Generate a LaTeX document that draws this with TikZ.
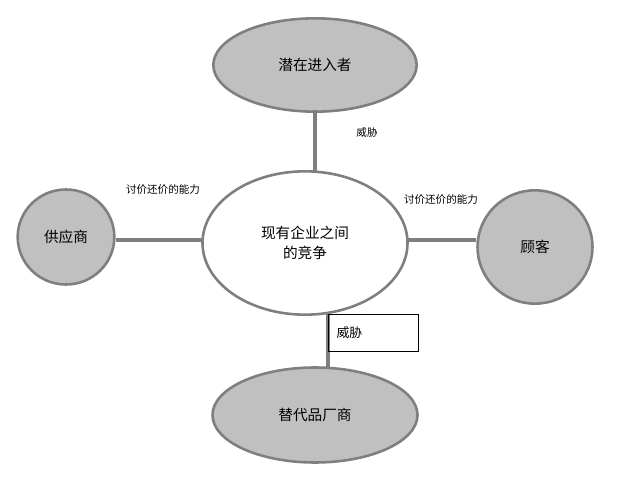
\documentclass[tikz,border=0pt]{standalone}
\usepackage{fontspec}
\setmainfont{Noto Sans CJK SC}
\usetikzlibrary{positioning,shapes.geometric}
\definecolor{rimgray}{HTML}{7F7F7F}
\definecolor{fillgray}{HTML}{C0C0C0}
\tikzset{
    party/.style = {ellipse,
                    fill=fillgray,
                    draw=rimgray,
                    line width=2.2pt,
                    inner sep=0pt,
                    text=black,
                    font=\fontsize{12.5}{17}\selectfont},
    core/.style =  {party,
                    fill=white},
    link/.style =  {draw=rimgray,
                    line width=2.6pt},
    tag/.style =   {font=\fontsize{9}{11}\selectfont, inner sep=0pt}
}
\begin{document}
\begin{tikzpicture}[x=0.03cm,y=-0.03cm]
    \useasboundingbox (0,0) rectangle (643,486);
    \node[core, minimum width=6.15cm, minimum height=4.3cm, align=center] (M) at (305,243) {现有企业之间\\的竞争};
    \node[party, minimum width=6.1cm, minimum height=2.8cm] (T) at (315,65) {潜在进入者};
    \node[party, minimum width=6.15cm, minimum height=2.85cm] (B) at (315,415) {替代品厂商};
    \node[party, minimum width=2.9cm, minimum height=2.85cm] (L) at (66,237) {供应商};
    \node[party, minimum width=3.45cm, minimum height=3.4cm] (R) at (535,247) {顾客};
    \coordinate (t0) at (315,110);
    \coordinate (tm) at (315,173);
    \coordinate (m1) at (328,313);
    \coordinate (m2) at (328,368);
    \coordinate (lm) at (203,240);
    \coordinate (rm) at (408,240);
    \path [link] (t0) -- (tm)
                 (L.east |- lm) -- (lm)
                 (R.west |- rm) -- (rm)
                 (m1) -- (m2);
    \node[tag] (t1) at (367,133) {威胁};
    \node[tag] (t2) at (163,190) {讨价还价的能力};
    \node[tag] (t3) at (441,200) {讨价还价的能力};
    \node[draw, thin, anchor=north west, minimum width=2.7cm, minimum height=1.1cm, text width=2.2cm, font=\fontsize{11}{13}\selectfont] (box) at (328,314) {威胁};
\end{tikzpicture}
\end{document}
